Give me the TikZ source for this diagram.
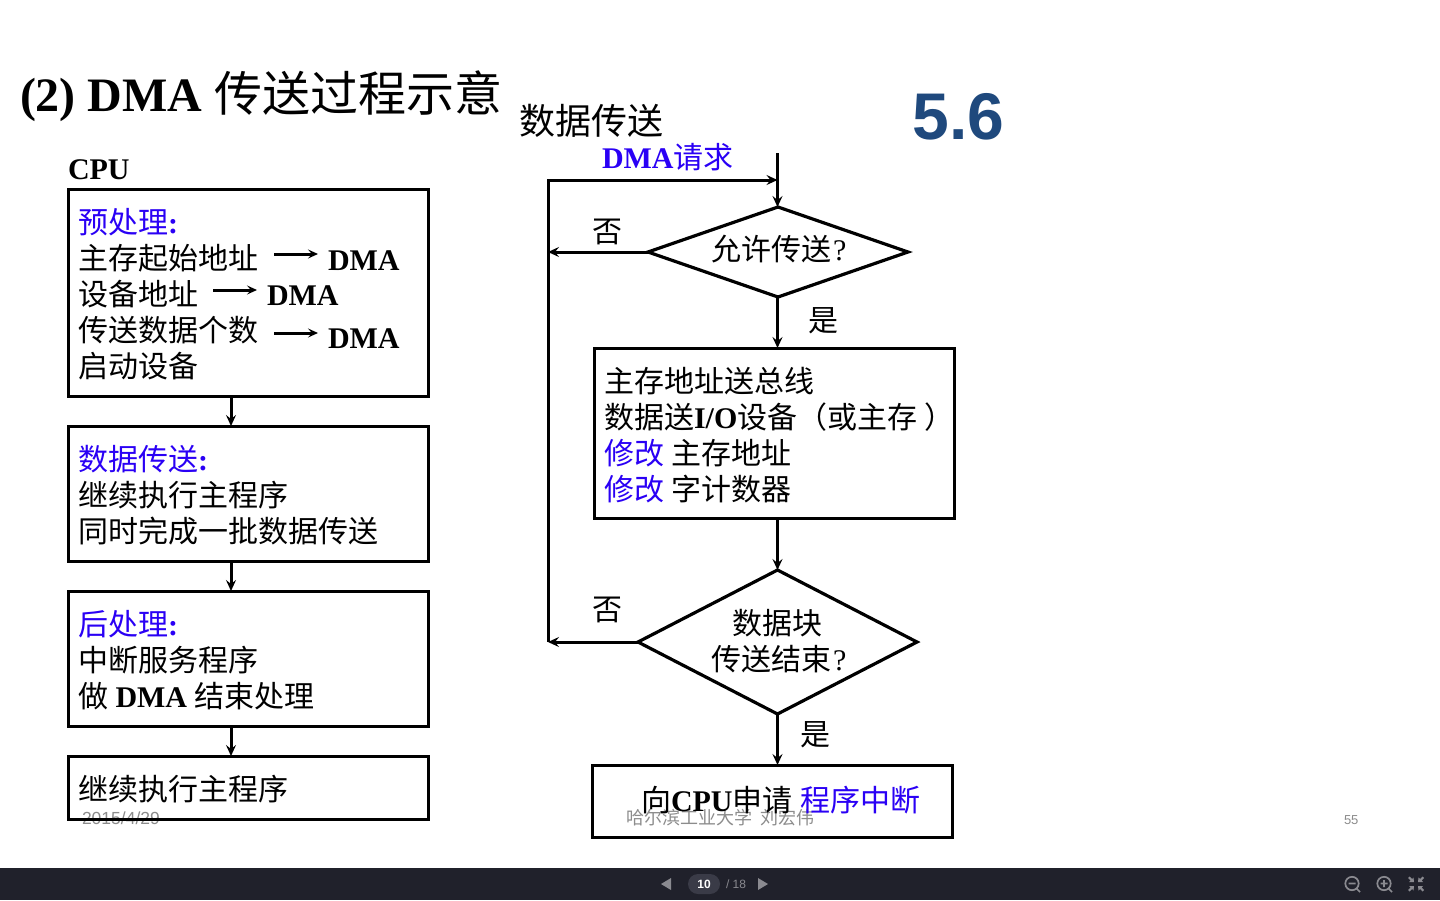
\documentclass[tikz,border=0pt]{standalone}
\usepackage{fontspec}
\setmainfont{Liberation Serif}
\newfontfamily\cnf{Noto Sans CJK SC}
\newfontfamily\snf{Liberation Sans}
\usetikzlibrary{arrows.meta,shapes.geometric}
\definecolor{dblue}{RGB}{42,0,245}
\definecolor{numblue}{RGB}{31,73,125}
\definecolor{barbg}{RGB}{32,33,43}
\definecolor{pillbg}{RGB}{58,59,71}
\definecolor{iconc}{RGB}{138,138,144}
\definecolor{wmark}{RGB}{140,140,140}
\newcommand{\zhs}[1]{{\cnf #1}}
\newcommand{\ens}[1]{{\bfseries #1}}
\newcommand{\blu}[1]{\textcolor{dblue}{#1}}
\tikzset{
  fsz/.style={font=\fontsize{#1}{#1}\selectfont},
  txt/.style={anchor=base west,inner sep=0pt,outer sep=0pt,text=black,fsz=30},
  ctxt/.style={anchor=base,inner sep=0pt,outer sep=0pt,text=black,fsz=30},
  wtxt/.style={anchor=base west,inner sep=0pt,outer sep=0pt,text=wmark,fsz=18},
  flowbox/.style={draw=black,line width=3pt,rectangle,inner sep=0pt,outer sep=0pt},
  decide/.style={draw=black,line width=3.2pt,diamond,inner sep=0pt,outer sep=0pt,aspect=2},
  conn/.style={draw=black,line width=3pt,-{Stealth[length=11pt,width=10pt,inset=4pt]}},
  plain/.style={draw=black,line width=3pt,line join=miter},
  minarrow/.style={draw=black,line width=3pt,-{Stealth[length=10pt,width=9pt,inset=4pt]}},
  icon/.style={draw=iconc,line width=1.7pt},
}
\begin{document}
\begin{tikzpicture}[x=1pt,y=-1pt]
\useasboundingbox (0,0) rectangle (1440,900);
\fill[white] (0,0) rectangle (1440,900);

% footer of the slide, under the content
\node[wtxt,fsz=17.5] (date) at (82,824) {\snf 2015/4/29};
\node[wtxt] (author) at (626,824) {\zhs{哈尔滨工业大学\hspace{8pt}刘宏伟}};
\node[wtxt,fsz=13,text=wmark] (pageno) at (1344,824) {\snf 55};

% headings
\node[txt,fsz=48] (title) at (20,111) {\ens{(2) DMA }\zhs{传送过程示意}};
\node[txt,fsz=36] (head) at (519,134) {\zhs{数据传送}};
\node[anchor=base west,inner sep=0pt,text=numblue,fsz=66] (num) at (912.5,139) {\snf\bfseries 5.6};
\node[txt] (cpu) at (68,179) {\ens{CPU}};
\node[txt] (req) at (602,168) {\blu{\ens{DMA}\zhs{请求}}};

% left column boxes
\node[flowbox,minimum width=359.5pt,minimum height=207pt] (b1) at (248.5,292.5) {};
\node[flowbox,minimum width=359.5pt,minimum height=135pt] (b2) at (248.5,493.5) {};
\node[flowbox,minimum width=359.5pt,minimum height=135pt] (b3) at (248.5,658.5) {};
\node[flowbox,minimum width=359.5pt,minimum height=63pt]  (b4) at (248.5,787.5) {};

\node[txt] (b1a) at (78,233) {\blu{\zhs{预处理}\ens{:}}};
\node[txt] (b1b) at (78,269) {\zhs{主存起始地址}};
\node[txt] (b1bd) at (328,270) {\ens{DMA}};
\node[txt] (b1c) at (78,305) {\zhs{设备地址}};
\node[txt] (b1cd) at (267,305) {\ens{DMA}};
\node[txt] (b1d) at (78,341) {\zhs{传送数据个数}};
\node[txt] (b1dd) at (328,348) {\ens{DMA}};
\node[txt] (b1e) at (78,377) {\zhs{启动设备}};
\node[txt] (b2a) at (78,470) {\blu{\zhs{数据传送}\ens{:}}};
\node[txt] (b2b) at (78,506) {\zhs{继续执行主程序}};
\node[txt] (b2c) at (78,542) {\zhs{同时完成一批数据传送}};
\node[txt] (b3a) at (78,635) {\blu{\zhs{后处理}\ens{:}}};
\node[txt] (b3b) at (78,671) {\zhs{中断服务程序}};
\node[txt] (b3c) at (78,707) {\zhs{做}\ens{ DMA }\zhs{结束处理}};
\node[txt] (b4a) at (78,800) {\zhs{继续执行主程序}};

% right column
\node[decide,minimum width=260pt,minimum height=90pt] (d1) at (778,252) {};
\node[decide,minimum width=279pt,minimum height=144pt] (d2) at (777.5,642) {};
\node[flowbox,minimum width=360pt,minimum height=170pt] (b5) at (774,433) {};
\node[flowbox,minimum width=360pt,minimum height=72pt] (b6) at (772.5,801) {};

\node[txt] (d1t) at (711,260) {\zhs{允许传送}\hspace{2pt}?};
\node[ctxt] (d2t) at (777.5,634) {\zhs{数据块}};
\node[txt] (d2u) at (711,670) {\zhs{传送结束}\hspace{2pt}?};
\node[ctxt] (no1) at (607,242) {\zhs{否}};
\node[ctxt] (yes1) at (823,331) {\zhs{是}};
\node[ctxt] (no2) at (607,620) {\zhs{否}};
\node[ctxt] (yes2) at (815,745) {\zhs{是}};

\node[txt] (b5a) at (604,392) {\zhs{主存地址送总线}};
\node[txt] (b5b) at (604,428) {\zhs{数据送}\ens{I/O}\zhs{设备（或主存}\ \zhs{）}};
\node[txt] (b5c) at (604,464) {\blu{\zhs{修改}}\ \zhs{主存地址}};
\node[txt] (b5d) at (604,500) {\blu{\zhs{修改}}\ \zhs{字计数器}};
\node[txt] (b6a) at (641,811) {\zhs{向}\ens{CPU}\zhs{申请}\ \blu{\zhs{程序中断}}};

% small arrows inside the first box
\coordinate (a1s) at (274,254); \coordinate (a1e) at (318,254);
\coordinate (a2s) at (213,290); \coordinate (a2e) at (257,290);
\coordinate (a3s) at (274,333); \coordinate (a3e) at (318,333);
\draw[minarrow] (a1s) -- (a1e);
\draw[minarrow] (a2s) -- (a2e);
\draw[minarrow] (a3s) -- (a3e);

% connectors
\coordinate (lx) at (231,0);
\coordinate (rx) at (777.5,0);
\coordinate (start) at (777.5,153);
\coordinate (lt) at (548,180);
\coordinate (lb) at (548,642);
\coordinate (jt) at (777.5,180);
\coordinate (jm) at (548,252);
\draw[conn] (b1.south -| lx) -- (b2.north -| lx);
\draw[conn] (b2.south -| lx) -- (b3.north -| lx);
\draw[conn] (b3.south -| lx) -- (b4.north -| lx);
\draw[conn] (start) -- (d1.north -| start);
\draw[conn] (d1.south -| rx) -- (b5.north -| rx);
\draw[conn] (b5.south -| rx) -- (d2.north -| rx);
\draw[conn] (d2.south -| rx) -- (b6.north -| rx);
\draw[conn] (d1.west) -- (jm);
\draw[conn] (d2.west) -- (lb);
\draw[conn] (lb) -- (lt) -- (jt);

% viewer toolbar
\fill[barbg] (0,868) rectangle (1440,900);
\fill[pillbg,rounded corners=10pt] (688,874) rectangle (720,894);
\node[anchor=center,inner sep=0pt,text=white,fsz=12] (cur) at (704,884) {\snf\bfseries 10};
\node[anchor=center,inner sep=0pt,text=iconc,fsz=12] (tot) at (736,884) {\snf / 18};
\fill[iconc] (671,878) -- (661,884) -- (671,890) -- cycle;
\fill[iconc] (758,878) -- (768,884) -- (758,890) -- cycle;
\draw[icon] (1352,883.5) circle (6.7pt) (1348.5,883.5) -- ++(7,0) (1357,889) -- (1360,892);
\draw[icon] (1384,883.5) circle (6.7pt) (1380.5,883.5) -- ++(7,0) (1384,880) -- ++(0,7) (1389,889) -- (1392,892);
\foreach \sx/\sy in {-1/-1,1/-1,-1/1,1/1}{
  \fill[iconc] (1416+\sx*2,884+\sy*2) -- ++(\sx*5,0) -- ++(-\sx*1.5,\sy*1.5) -- ++(\sx*2.5,\sy*2.5) -- ++(-\sx*1.5,\sy*1.5) -- ++(-\sx*2.5,-\sy*2.5) -- ++(-\sx*1.5,\sy*1.5) -- cycle;
}
\end{tikzpicture}
\end{document}
